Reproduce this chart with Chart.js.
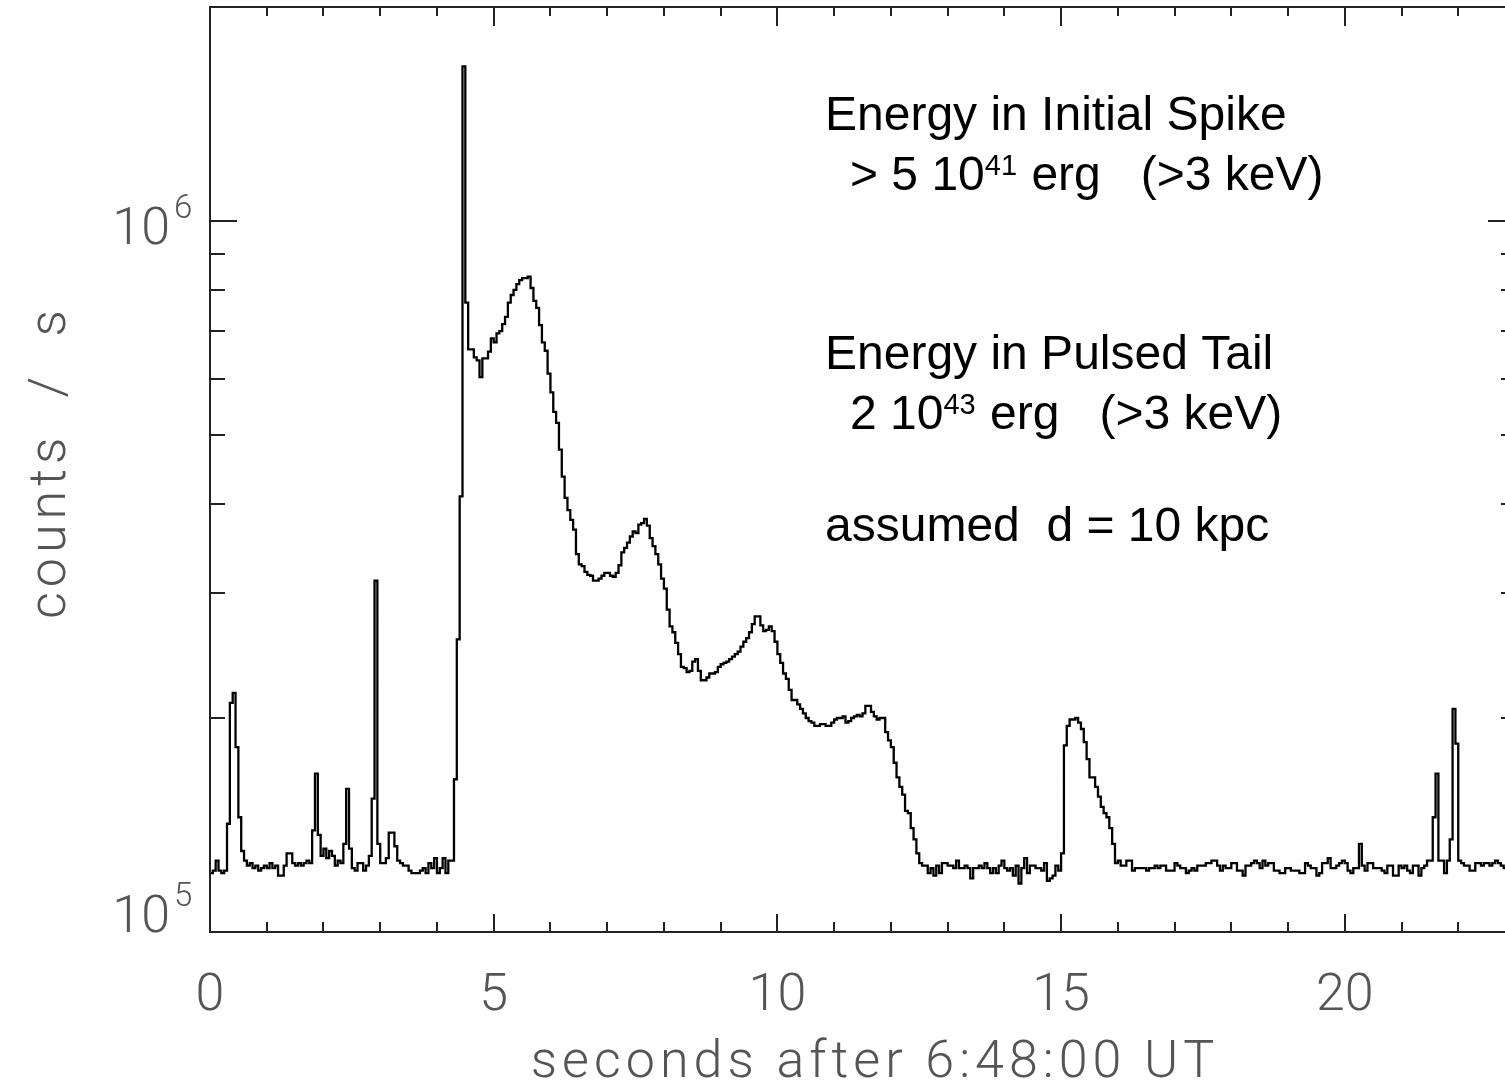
<!DOCTYPE html>
<html>
<head>
<meta charset="utf-8">
<title>Light curve</title>
<script src="https://cdn.jsdelivr.net/npm/chart.js@4.4.1/dist/chart.umd.min.js"></script>
<style>
  html, body { margin: 0; padding: 0; background: #fff; overflow: hidden; }
  #wrap { position: absolute; left: 0; top: 0; width: 1530px; height: 1084px; }
</style>
</head>
<body>
<div id="wrap"><canvas id="lightCurve" width="1530" height="1084"></canvas></div>
<script>
// 0.05 s bins from 6:48:00 UT, rate in 10^3 counts/s
const binWidth = 0.05;
const countsK = [
    121, 122, 126, 122, 121, 122, 142, 210, 217, 182,
    145, 130, 126, 124, 125, 123, 124, 122, 123, 124,
    123, 125, 123, 124, 120, 120, 124, 129, 129, 125,
    124, 125, 124, 125, 126, 125, 139, 167, 137, 128,
    131, 127, 130, 128, 124, 126, 125, 133, 159, 131,
    123, 122, 125, 125, 122, 124, 128, 154, 312, 133,
    125, 125, 127, 138, 138, 132, 126, 125, 124, 124,
    122, 121, 121, 121, 122, 123, 121, 125, 123, 127,
    121, 123, 127, 121, 126, 126, 164, 258, 410, 1650,
    768, 660, 660, 643, 637, 603, 641, 641, 655, 684,
    675, 695, 700, 716, 733, 768, 787, 800, 815, 826,
    831, 831, 835, 805, 772, 755, 714, 675, 657, 610,
    574, 539, 520, 477, 437, 408, 392, 380, 368, 340,
    329, 327, 321, 318, 317, 312, 312, 314, 317, 320,
    320, 317, 316, 320, 328, 342, 347, 353, 360, 366,
    364, 374, 376, 381, 373, 358, 349, 340, 329, 314,
    304, 284, 269, 264, 255, 246, 236, 235, 232, 233,
    240, 242, 233, 226, 226, 228, 231, 231, 232, 236,
    238, 239, 240, 242, 244, 246, 248, 252, 256, 259,
    264, 271, 278, 278, 270, 265, 266, 269, 265, 256,
    246, 239, 231, 227, 219, 212, 212, 209, 206, 203,
    200, 198, 197, 195, 195, 196, 196, 195, 195, 197,
    199, 200, 200, 201, 197, 198, 200, 201, 202, 201,
    203, 208, 208, 204, 201, 199, 200, 200, 191, 186,
    182, 173, 165, 160, 156, 148, 147, 140, 135, 129,
    125, 124, 124, 121, 123, 120, 124, 121, 125, 125,
    124, 124, 123, 126, 123, 123, 124, 123, 119, 123,
    123, 124, 123, 125, 123, 121, 123, 121, 124, 126,
    123, 122, 123, 120, 124, 117, 123, 127, 121, 124,
    124, 123, 123, 122, 125, 118, 119, 120, 124, 122,
    129, 183, 195, 199, 199, 200, 197, 193, 185, 175,
    165, 165, 160, 155, 150, 147, 145, 140, 133, 125,
    126, 124, 124, 126, 126, 122, 123, 123, 123, 123,
    122, 123, 123, 124, 123, 124, 124, 122, 122, 122,
    125, 124, 123, 123, 121, 122, 123, 122, 124, 124,
    124, 125, 125, 126, 126, 124, 122, 124, 123, 123,
    125, 125, 122, 122, 120, 124, 124, 125, 126, 125,
    123, 126, 124, 125, 125, 122, 122, 121, 121, 123,
    123, 122, 122, 122, 121, 121, 125, 124, 123, 123,
    120, 121, 125, 125, 127, 123, 123, 124, 125, 126,
    125, 122, 121, 123, 123, 133, 124, 122, 125, 125,
    123, 123, 123, 122, 121, 124, 124, 120, 120, 124,
    123, 124, 122, 121, 124, 124, 120, 123, 124, 126,
    126, 145, 167, 126, 126, 121, 126, 135, 206, 184,
    126, 125, 124, 124, 122, 122, 125, 125, 124, 125,
    125, 124, 125, 126, 125, 124, 123, 124, 123, 124
];

const xRange = [0, 23];
const yRange = [1e5, 2e6];
const xLabels = [0, 5, 10, 15, 20];

const tickFont = '300 52px Roboto, "Liberation Sans", sans-serif';
const supFont = '300 33px Roboto, "Liberation Sans", sans-serif';
const tickGray = '#555';
const noteFont = '48px "Liberation Sans", Arial, sans-serif';
const noteSup = '29px "Liberation Sans", Arial, sans-serif';

// energy notes: [text, superscript?]
const notes = [
    { x: 825, base: 130, parts: [['Energy in Initial Spike']] },
    { x: 850, base: 190, parts: [['> 5 10'], ['41', true], [' erg   (>3 keV)']] },
    { x: 825, base: 369, parts: [['Energy in Pulsed Tail']] },
    { x: 850, base: 429, parts: [['2 10'], ['43', true], [' erg   (>3 keV)']] },
    { x: 825, base: 541, parts: [['assumed  d = 10 kpc']] }
];

// step points: each bin holds its value until the next edge
const points = countsK.map((v, i) => ({ x: i * binWidth, y: v * 1000 }));
points.push({ x: countsK.length * binWidth, y: countsK[countsK.length - 1] * 1000 });

function mantissa(v) {
    return v / Math.pow(10, Math.floor(Math.log10(v) + 1e-9));
}

const frameAndLabels = {
    id: 'frameAndLabels',
    afterDatasetsDraw(chart) {
        const { ctx, chartArea: a, scales: { x, y } } = chart;
        ctx.save();

        // frame
        ctx.strokeStyle = '#222';
        ctx.lineWidth = 2;
        ctx.strokeRect(a.left, a.top, a.right - a.left, a.bottom - a.top);

        // ticks point inward on all four sides
        ctx.beginPath();
        x.ticks.forEach(t => {
            const px = Math.round(x.getPixelForValue(t.value));
            const major = t.value % 5 === 0;
            ctx.moveTo(px, a.bottom);
            ctx.lineTo(px, a.bottom - (major ? 18 : 10));
            ctx.moveTo(px, a.top);
            ctx.lineTo(px, a.top + (major ? 19 : 9));
        });
        y.ticks.forEach(t => {
            const m = mantissa(t.value);
            if (Math.abs(m - Math.round(m)) > 1e-6 || t.value >= yRange[1]) return;
            const py = Math.round(y.getPixelForValue(t.value));
            const major = Math.round(m) === 1;
            ctx.moveTo(a.left, py);
            ctx.lineTo(a.left + (major ? 27 : 15), py);
            ctx.moveTo(a.right, py);
            ctx.lineTo(a.right - (major ? 27 : 14), py);
        });
        ctx.stroke();

        // tick labels
        ctx.fillStyle = tickGray;
        ctx.font = tickFont;
        ctx.textAlign = 'center';
        ctx.textBaseline = 'alphabetic';
        xLabels.forEach(v => {
            ctx.fillText(String(v), x.getPixelForValue(v), 1010);
        });

        y.ticks.forEach(t => {
            const m = mantissa(t.value);
            if (Math.abs(m - 1) > 1e-6 || t.value >= yRange[1]) return;
            const py = y.getPixelForValue(t.value);
            const base = Math.min(py + 23, a.bottom);
            ctx.font = tickFont;
            ctx.textAlign = 'right';
            ctx.fillText('10', 170, base);
            ctx.font = supFont;
            ctx.textAlign = 'left';
            ctx.fillText(String(Math.round(Math.log10(t.value))), 174, base - 26);
        });

        // axis titles
        ctx.font = tickFont;
        ctx.textAlign = 'center';
        ctx.letterSpacing = '5px';
        ctx.fillText('seconds after 6:48:00 UT', 875, 1077);
        ctx.save();
        ctx.translate(52, 462);
        ctx.rotate(-Math.PI / 2);
        ctx.textBaseline = 'middle';
        ctx.fillText('counts  /  s', 0, 0);
        ctx.restore();
        ctx.letterSpacing = '0px';

        // energy notes
        ctx.fillStyle = '#000';
        ctx.textAlign = 'left';
        ctx.textBaseline = 'alphabetic';
        notes.forEach(line => {
            let px = line.x;
            line.parts.forEach(([text, sup]) => {
                ctx.font = sup ? noteSup : noteFont;
                ctx.fillText(text, px, sup ? line.base - 15 : line.base);
                px += ctx.measureText(text).width + (sup ? 1 : 0);
            });
        });

        ctx.restore();
    }
};

new Chart(document.getElementById('lightCurve'), {
    type: 'line',
    data: {
        datasets: [{
            data: points,
            stepped: 'before',
            borderColor: '#000',
            borderWidth: 2.3,
            pointRadius: 0,
            fill: false
        }]
    },
    options: {
        responsive: false,
        animation: false,
        events: [],
        layout: { padding: { left: 210, top: 7, right: 15, bottom: 152 } },
        plugins: { legend: { display: false }, tooltip: { enabled: false } },
        scales: {
            x: {
                type: 'linear',
                display: false,
                min: xRange[0],
                max: xRange[1],
                ticks: { stepSize: 1 }
            },
            y: {
                type: 'logarithmic',
                display: false,
                min: yRange[0],
                max: yRange[1]
            }
        }
    },
    plugins: [frameAndLabels]
});
</script>
</body>
</html>
